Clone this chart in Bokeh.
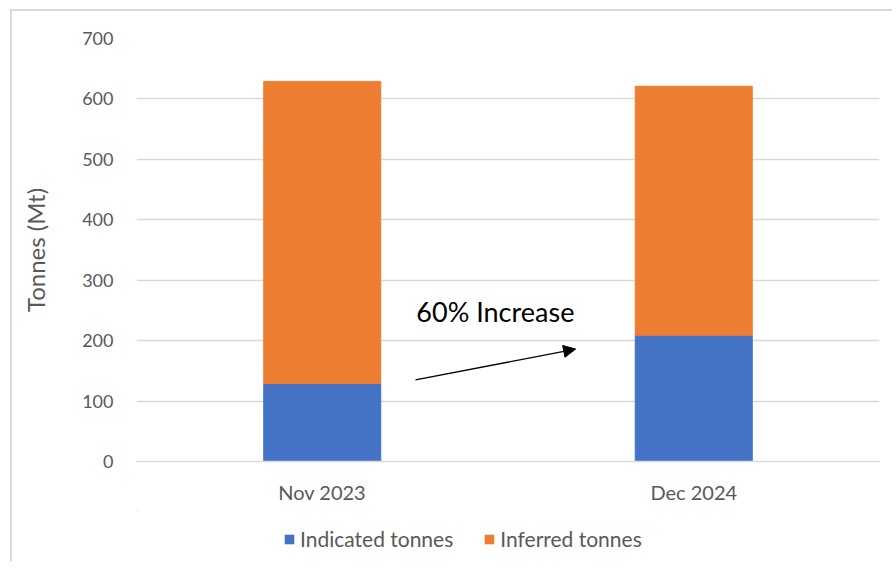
from bokeh.plotting import figure
from bokeh.models import (ColumnDataSource, Legend, LegendItem, Arrow, NormalHead,
                          FixedTicker, Label, Range1d)
from bokeh.layouts import column
from bokeh.embed import file_html
from bokeh.resources import INLINE

categories = ["Nov 2023", "Dec 2024"]
indicated = [129, 209]
inferred = [500, 412]
y_ticks = [0, 100, 200, 300, 400, 500, 600, 700]
series_names = ["Indicated tonnes", "Inferred tonnes"]
series_colors = ["#4472C4", "#ED7D31"]
annotation_text = "60% Increase"

FONT = "Lato"
xpos = [i + 0.5 for i in range(len(categories))]
bottoms = [0] * len(categories)
mids = indicated
tops = [a + b for a, b in zip(indicated, inferred)]

src = ColumnDataSource(dict(x=xpos, b0=bottoms, t0=mids, t1=tops))
layers = [("b0", "t0"), ("t0", "t1")]

p = figure(width=880, height=500, output_backend="svg", toolbar_location=None,
           x_range=(0, 2), y_range=(0, 700),
           min_border_left=124, min_border_right=13, min_border_top=27, min_border_bottom=50)
p.outline_line_color = None

for (b, t), color in zip(layers, series_colors):
    p.vbar(x="x", bottom=b, top=t, width=0.315, source=src,
           fill_color=color, line_color=color)

p.xgrid.grid_line_color = None
p.ygrid.grid_line_color = "#d9d9d9"
p.ygrid.grid_line_width = 1.5
p.ygrid.ticker = FixedTicker(ticks=y_ticks)

p.yaxis.ticker = FixedTicker(ticks=y_ticks)
p.yaxis.axis_line_color = None
p.yaxis.major_tick_line_color = None
p.yaxis.minor_tick_line_color = None
p.yaxis.major_label_standoff = 17
p.yaxis.major_label_text_font = FONT
p.yaxis.major_label_text_font_size = "18px"
p.yaxis.major_label_text_color = "#595959"
p.yaxis.axis_label = "Tonnes (Mt)"
p.yaxis.axis_label_text_font = FONT
p.yaxis.axis_label_text_font_size = "24px"
p.yaxis.axis_label_text_font_style = "normal"
p.yaxis.axis_label_text_color = "#595959"
p.yaxis.axis_label_standoff = 29

p.xaxis.ticker = FixedTicker(ticks=xpos)
p.xaxis.major_label_overrides = {x: c for x, c in zip(xpos, categories)}
p.xaxis.axis_line_color = "#d9d9d9"
p.xaxis.axis_line_width = 1.5
p.xaxis.major_tick_line_color = None
p.xaxis.minor_tick_line_color = None
p.xaxis.major_label_standoff = 12
p.xaxis.major_label_text_font = FONT
p.xaxis.major_label_text_font_size = "20px"
p.xaxis.major_label_text_color = "#595959"

p.add_layout(Label(x=0.966, y=248, text=annotation_text, text_align="center",
                   text_baseline="middle", text_font=FONT, text_font_size="27px",
                   text_color="black"))
p.add_layout(Arrow(x_start=0.751, y_start=135, x_end=1.182, y_end=186,
                   line_color="black", line_width=1.3,
                   end=NormalHead(size=12, fill_color="black", line_color="black")))

# legend strip below the chart (its renderers lie outside the strip's visible range)
lg = figure(width=880, height=50, output_backend="svg", toolbar_location=None,
            x_range=Range1d(10, 11), y_range=Range1d(-20, -10),
            min_border_left=124, min_border_right=13, min_border_top=0, min_border_bottom=0)
lg.outline_line_color = None
lg.axis.visible = False
lg.grid.visible = False
items = []
for name, (b, t), color in zip(series_names, layers, series_colors):
    r = lg.vbar(x="x", bottom=b, top=t, width=0.315, source=src,
                fill_color=color, line_color=None)
    items.append(LegendItem(label=name, renderers=[r]))
legend = Legend(items=items, orientation="horizontal", location=(147, 10),
                label_text_font=FONT, label_text_font_size="21px",
                label_text_color="#595959", glyph_width=12, glyph_height=12,
                label_height=20, label_standoff=5, spacing=30, padding=0, margin=0,
                border_line_color=None, background_fill_alpha=0)
lg.add_layout(legend, "center")

layout = column(p, lg, spacing=0,
                styles={"margin-left": "10px", "margin-top": "9px",
                        "border-left": "2px solid #d9d9d9",
                        "border-top": "2px solid #d9d9d9"})

open("out.html", "w").write(file_html(layout, INLINE))
